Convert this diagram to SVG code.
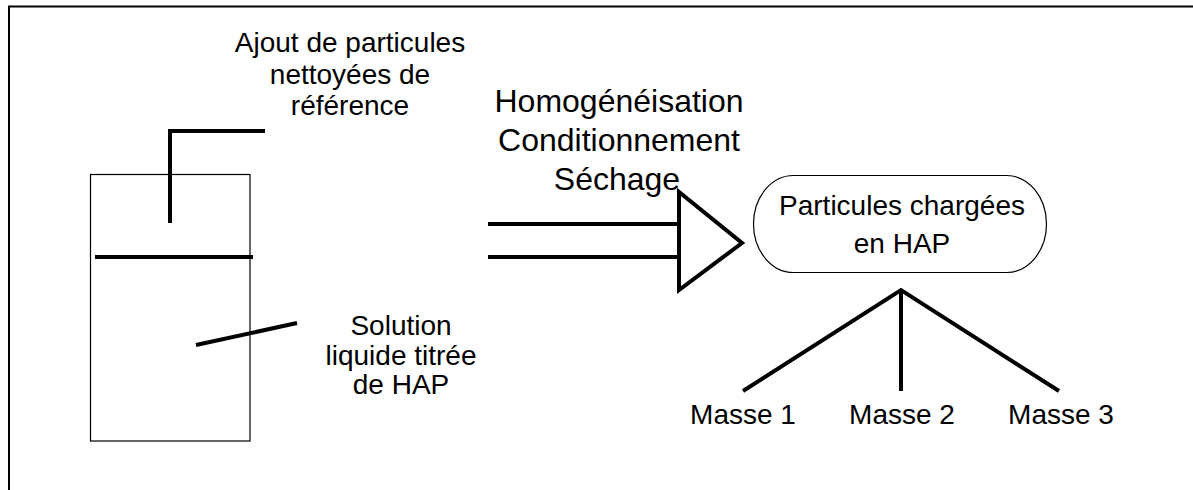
<svg xmlns="http://www.w3.org/2000/svg" width="1193" height="490" viewBox="0 0 1193 490">
<style>
text{font-family:"Liberation Sans",Arial,sans-serif;fill:#000;text-anchor:middle}
.t28{font-size:28px}
.t32{font-size:32px}
.thick{fill:none;stroke:#000;stroke-width:4}
.thin{fill:none;stroke:#000;stroke-width:1.2}
</style>
<rect width="1193" height="490" fill="#fff"/>
<g id="frame">
<path d="M9 490 V6.5 H1193" fill="none" stroke="#000" stroke-width="2"/>
</g>
<g id="container">
<rect x="90.5" y="174.5" width="159.5" height="266.5" class="thin"/>
</g>
<g id="label-ajout">
<text class="t28" x="350" y="52">Ajout de particules</text>
<text class="t28" x="350" y="84">nettoyées de</text>
<text class="t28" x="350" y="115">référence</text>
</g>
<g id="label-solution">
<text class="t28" x="401" y="335">Solution</text>
<text class="t28" x="401" y="365">liquide titrée</text>
<text class="t28" x="401" y="394">de HAP</text>
</g>
<g id="label-process">
<text class="t32" x="619" y="112">Homogénéisation</text>
<text class="t32" x="619" y="151">Conditionnement</text>
<text class="t32" x="617" y="190">Séchage</text>
</g>
<g id="node-particules">
<rect x="753.5" y="175.5" width="293" height="97" rx="40" ry="48.5" class="thin"/>
<text class="t28" x="902" y="215">Particules chargées</text>
<text class="t28" x="902" y="253">en HAP</text>
</g>
<g id="node-masse1"><text class="t28" x="743" y="424">Masse 1</text></g>
<g id="node-masse2"><text class="t28" x="902" y="424">Masse 2</text></g>
<g id="node-masse3"><text class="t28" x="1061" y="424">Masse 3</text></g>
<g id="connectors">
<path class="thick" d="M265 131 H170 V223"/>
<path class="thick" d="M95 257 H253"/>
<path class="thick" d="M196 345 L297 323"/>
<path class="thick" d="M488 224 H679 M488 257 H679"/>
<polygon class="thick" points="679,192 679,290 742,243"/>
<path class="thick" d="M743 391 L901 290 L1059 391 M901 290 V391"/>
</g>
</svg>
